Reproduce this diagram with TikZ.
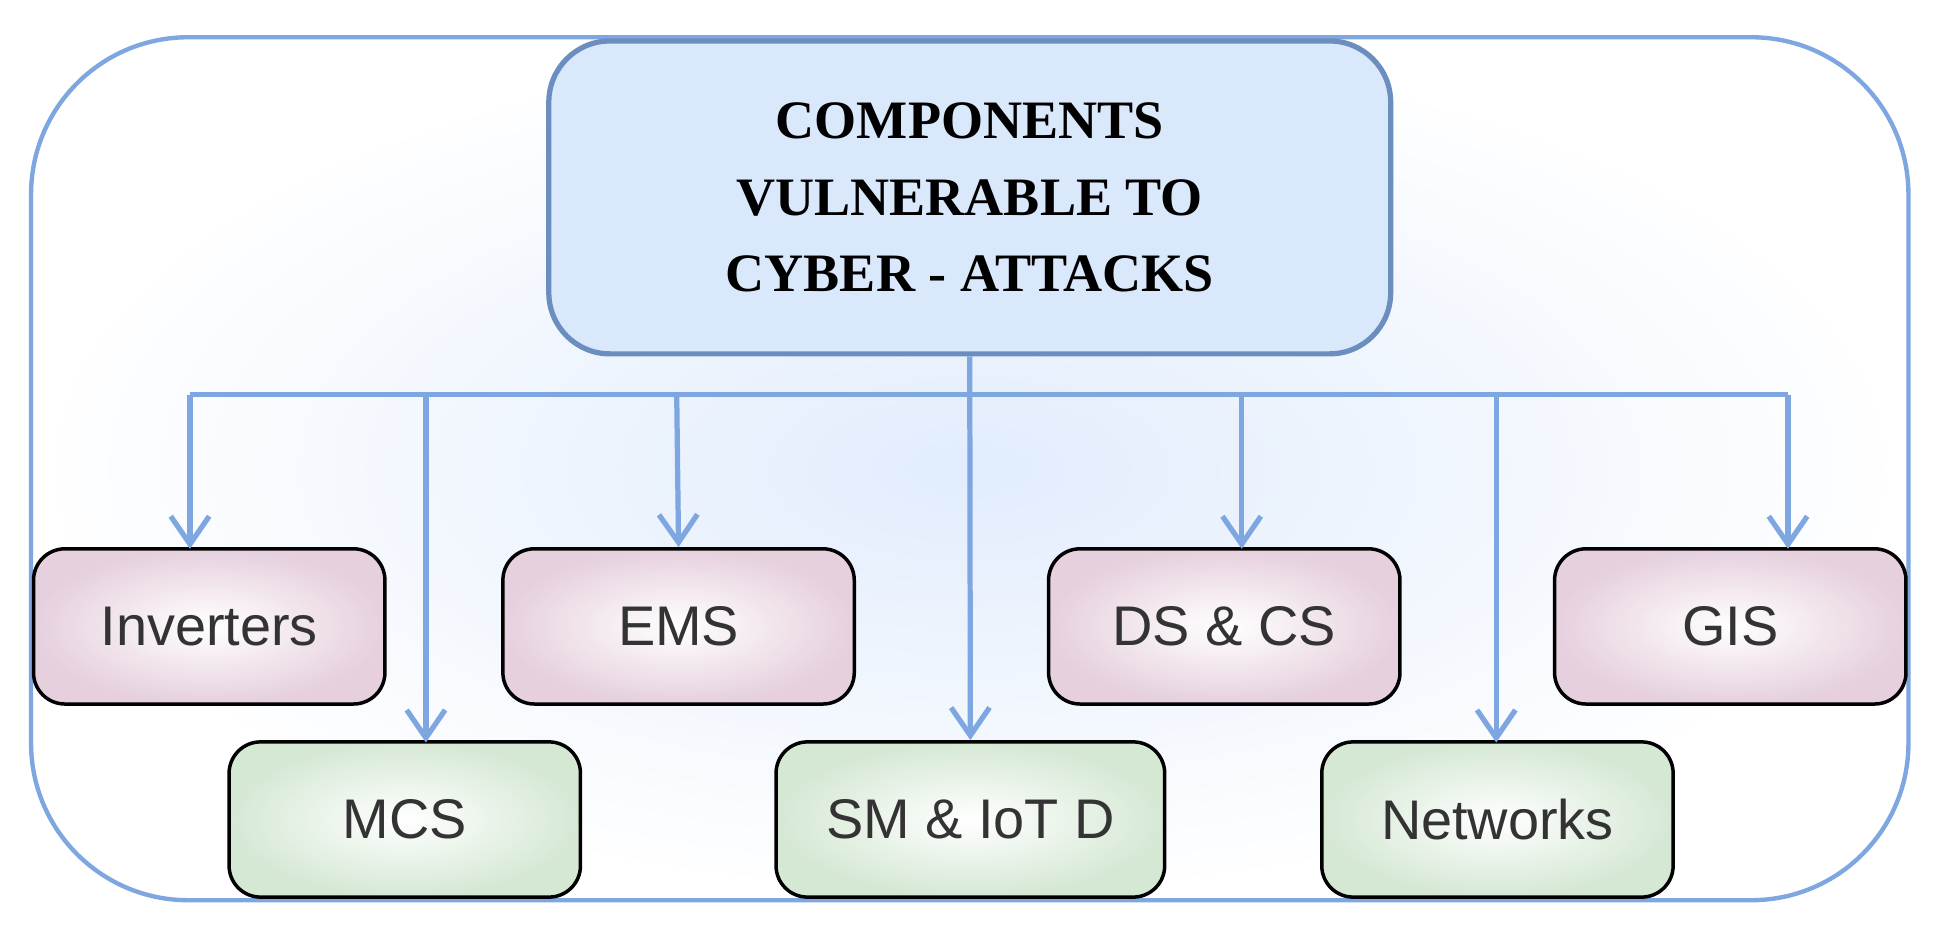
\documentclass[tikz,border=0pt]{standalone}
\usepackage{fontspec}
\setmainfont{Liberation Sans}
\newfontfamily\serifb{Liberation Serif}
\usetikzlibrary{arrows.meta}
\definecolor{arr}{HTML}{7EA6E0}
\definecolor{topf}{HTML}{DAE8FC}
\definecolor{tops}{HTML}{6C8EBF}
\definecolor{pinkf}{HTML}{E6D0DE}
\definecolor{greenf}{HTML}{D5E8D4}
\definecolor{txt}{HTML}{333333}
\begin{document}
\begin{tikzpicture}[x=0.025cm,y=-0.025cm,
  leaf/.style={draw=black,line width=2pt,rounded corners=18,minimum width=283*0.025cm,minimum height=125*0.025cm,font=\fontsize{32}{36}\selectfont,text=txt,inner sep=0},
  pink/.style={leaf,inner color=white,outer color=pinkf},
  green/.style={leaf,inner color=white,outer color=greenf},
  ar/.style={draw=arr,line width=3pt,-{Straight Barb[length=16pt,width=22pt,line width=3pt]}},
  ln/.style={draw=arr,line width=3pt}]
\useasboundingbox (0,0) rectangle (1560,747);
\fill[inner color=topf!80,outer color=white,rounded corners=90] (25,30) rectangle (1537,725);
\draw[arr,line width=2.5pt,rounded corners=90] (25,30) rectangle (1537,725);
\node[draw=tops,line width=3pt,fill=topf,rounded corners=35,minimum width=678*0.025cm,minimum height=252*0.025cm,align=center,font=\serifb\bfseries\fontsize{31}{44}\selectfont] (top) at (781,159) {COMPONENTS\\VULNERABLE TO\\CYBER - ATTACKS};
\node[pink] (inv) at (168.5,504.5) {Inverters};
\node[pink] (ems) at (546.5,504.5) {EMS};
\node[pink] (ds) at (986,504.5) {DS \& CS};
\node[pink] (gis) at (1393.5,504.5) {GIS};
\node[green] (mcs) at (326,660) {MCS};
\node[green,minimum width=313*0.025cm] (sm) at (781.5,660) {SM \& IoT D};
\node[green] (net) at (1206,660) {Networks};
\coordinate (j) at (781,318);
\coordinate (l) at (153,318);
\coordinate (r) at (1440,318);
\draw[ln] (l) -- (r);
\draw[ar] (top.south) -- (sm.north);
\draw[ar] (l) -- (153,442);
\draw[ar] (343,318) -- (343,598);
\draw[ar] (545,318) -- (ems.north);
\draw[ar] (1000,318) -- (1000,442);
\draw[ar] (1205,318) -- (1205,598);
\draw[ar] (r) -- (1440,442);
\end{tikzpicture}
\end{document}
